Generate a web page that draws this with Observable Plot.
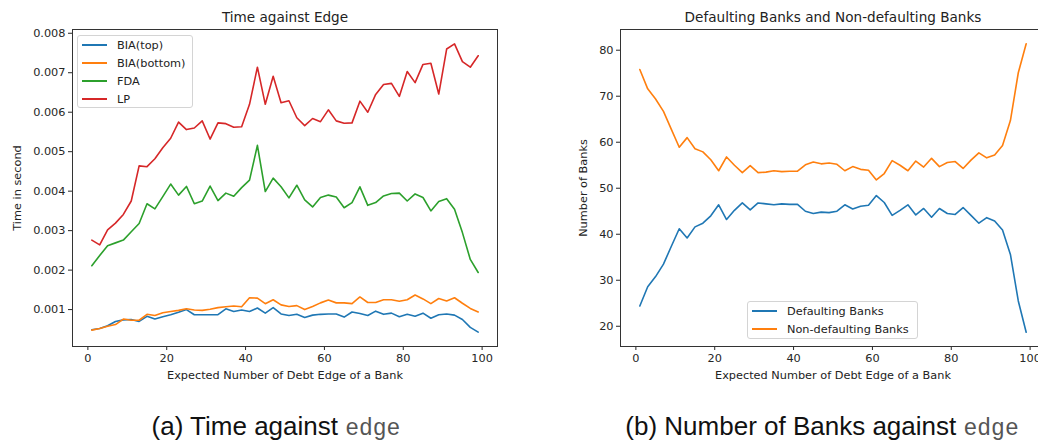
<!DOCTYPE html>
<html><head><meta charset="utf-8">
<script src="https://cdn.jsdelivr.net/npm/d3@7"></script>
<script src="https://cdn.jsdelivr.net/npm/@observablehq/plot@0.6"></script>
<style>
html,body{margin:0;padding:0;background:#fff;}
#wrap{position:relative;width:1038px;height:448px;overflow:hidden;font-family:"DejaVu Sans",sans-serif;}
.plot{position:absolute;top:0;}
.legend{position:absolute;box-sizing:border-box;background:rgba(255,255,255,0.8);border:1px solid #d4d4d4;border-radius:3px;font-size:11.3px;color:#222;}
.legend .row{display:flex;align-items:center;height:18px;white-space:nowrap;}
.sw{display:inline-block;width:25px;height:2px;margin-left:4px;margin-right:10px;}
.cap{position:absolute;top:411px;font-family:"Liberation Sans",Arial,sans-serif;font-size:26px;line-height:30px;color:#111;white-space:nowrap;transform:translateX(-50%);}
.cap .tt{font-family:"Liberation Mono",monospace;font-size:23px;color:#555;}
</style></head>
<body>
<div id="wrap">
  <div id="left" class="plot" style="left:0px"></div>
  <div id="right" class="plot" style="left:560px"></div>
  <div id="legL" class="legend" style="left:77px;top:35px;width:116px;height:73px;"></div>
  <div id="legR" class="legend" style="left:747px;top:301px;width:171px;height:38px;"></div>
  <div class="cap" style="left:276px">(a) Time against <span class="tt">edge</span></div>
  <div class="cap" style="left:822px">(b) Number of Banks against <span class="tt">edge</span></div>
</div>
<script>
const edges = [1,3,5,7,9,11,13,15,17,19,21,23,25,27,29,31,33,35,37,39,41,43,45,47,49,51,53,55,57,59,61,63,65,67,69,71,73,75,77,79,81,83,85,87,89,91,93,95,97,99];

const leftNames = ["BIA(top)", "BIA(bottom)", "FDA", "LP"];
const leftColors = ["#1f77b4", "#ff7f0e", "#2ca02c", "#d62728"];

const biaTop = [0.00049,0.00052,0.00059,0.00070,0.00074,0.00075,0.00070,0.00083,0.00076,0.00082,
0.00087,0.00093,0.00100,0.00087,0.00087,0.00087,0.00087,0.00102,0.00095,0.00099,
0.00095,0.00104,0.00091,0.00105,0.00089,0.00085,0.00088,0.00080,0.00086,0.00088,
0.00089,0.00089,0.00081,0.00094,0.00090,0.00085,0.00096,0.00088,0.00091,0.00082,
0.00088,0.00083,0.00091,0.00078,0.00087,0.00089,0.00086,0.00075,0.00055,0.00043];

const biaBottom = [0.00048,0.00052,0.00058,0.00062,0.00076,0.00073,0.00073,0.00088,0.00085,0.00092,
0.00095,0.00098,0.00102,0.00099,0.00098,0.00101,0.00105,0.00107,0.00109,0.00107,
0.00130,0.00129,0.00115,0.00125,0.00112,0.00108,0.00110,0.00100,0.00108,0.00117,
0.00124,0.00117,0.00117,0.00115,0.00132,0.00118,0.00118,0.00125,0.00125,0.00121,
0.00125,0.00137,0.00127,0.00115,0.00128,0.00122,0.00130,0.00116,0.00103,0.00094];

const fda = [0.00211,0.00237,0.00262,0.00269,0.00276,0.00297,0.00318,0.00368,0.00355,0.00386,
0.00418,0.00390,0.00412,0.00368,0.00375,0.00413,0.00376,0.00395,0.00387,0.00409,
0.00428,0.00516,0.00399,0.00433,0.00411,0.00383,0.00415,0.00378,0.00360,0.00384,
0.00390,0.00385,0.00358,0.00371,0.00411,0.00364,0.00371,0.00388,0.00394,0.00395,
0.00375,0.00393,0.00384,0.00350,0.00374,0.00381,0.00354,0.00295,0.00227,0.00194];

const lp = [0.00276,0.00264,0.00302,0.00319,0.00341,0.00375,0.00464,0.00462,0.00482,0.00510,
0.00534,0.00575,0.00556,0.00560,0.00578,0.00532,0.00573,0.00571,0.00562,0.00563,
0.00620,0.00714,0.00620,0.00691,0.00624,0.00629,0.00586,0.00566,0.00584,0.00576,
0.00606,0.00578,0.00572,0.00573,0.00628,0.00600,0.00645,0.00670,0.00673,0.00640,
0.00703,0.00675,0.00721,0.00724,0.00646,0.00760,0.00773,0.00728,0.00714,0.00743];

const rightNames = ["Defaulting Banks", "Non-defaulting Banks"];
const rightColors = ["#1f77b4", "#ff7f0e"];

const defaulting = [24.4,28.6,30.8,33.5,37.4,41.2,39.2,41.6,42.4,44.0,
46.4,43.2,45.2,46.8,45.3,46.8,46.6,46.4,46.6,46.5,
46.5,45.0,44.5,44.8,44.7,45.0,46.4,45.5,46.1,46.3,
48.4,46.9,44.1,45.2,46.4,44.2,45.6,43.7,45.6,44.5,
44.3,45.8,44.1,42.4,43.6,42.9,40.9,35.6,25.5,18.7];

const nonDefaulting = [75.8,71.6,69.4,66.7,62.8,58.9,61.0,58.6,57.9,56.2,
53.8,56.8,55.0,53.4,54.9,53.4,53.5,53.8,53.6,53.7,
53.7,55.1,55.7,55.3,55.5,55.2,53.8,54.7,54.1,53.9,
51.8,53.2,56.0,55.0,53.8,55.9,54.6,56.5,54.7,55.6,
55.8,54.3,56.1,57.7,56.6,57.2,59.3,64.7,75.1,81.4];

const xTicks = [0, 20, 40, 60, 80, 100];
const leftYTicks = [0.001, 0.002, 0.003, 0.004, 0.005, 0.006, 0.007, 0.008];
const rightYTicks = [20, 30, 40, 50, 60, 70, 80];

const leftTitle = "Time against Edge";
const rightTitle = "Defaulting Banks and Non-defaulting Banks";
const xLabel = "Expected Number of Debt Edge of a Bank";
const leftYLabel = "Time in second";
const rightYLabel = "Number of Banks";

const leftSeries = [biaTop, biaBottom, fda, lp];
const rightSeries = [defaulting, nonDefaulting];

function toRows(names, series) {
  const rows = [];
  names.forEach((name, i) => series[i].forEach((v, j) => rows.push({series: name, edge: edges[j], value: v})));
  return rows;
}

const baseStyle = {fontFamily: "DejaVu Sans", fontSize: "11.3px", color: "#262626", background: "transparent", overflow: "visible", maxWidth: "none"};

function makeChart({names, colors, series, yDomain, yTicks, yFormat, width, marginLeft, marginRight, title, yLabel, yLabelDx}) {
  return Plot.plot({
    width, height: 400,
    marginLeft, marginRight, marginTop: 29, marginBottom: 54,
    style: baseStyle,
    x: {domain: [-3.9, 103.9]},
    y: {domain: yDomain},
    color: {domain: names, range: colors},
    marks: [
      Plot.axisX({ticks: xTicks, tickSize: 4, tickPadding: 3, label: null, tickFormat: d => String(d)}),
      Plot.axisY({ticks: yTicks, tickSize: 4, tickPadding: 3, label: null, tickFormat: yFormat}),
      Plot.lineY(toRows(names, series), {x: "edge", y: "value", z: "series", stroke: "series", strokeWidth: 1.6}),
      Plot.frame({stroke: "#333", strokeWidth: 1}),
      Plot.text([title], {text: d => d, frameAnchor: "top", dy: -8, lineAnchor: "bottom", fontSize: 13.6, fill: "#222"}),
      Plot.text([xLabel], {text: d => d, frameAnchor: "bottom", dy: 29, lineAnchor: "middle", fontSize: 11.3, fill: "#222"}),
      Plot.text([yLabel], {text: d => d, frameAnchor: "left", dx: yLabelDx, rotate: -90, textAnchor: "middle", lineAnchor: "middle", fontSize: 11.3, fill: "#222"})
    ]
  });
}

document.getElementById("left").appendChild(makeChart({
  names: leftNames, colors: leftColors, series: leftSeries,
  yDomain: [0.000065, 0.008095], yTicks: leftYTicks, yFormat: d3.format(".3f"),
  width: 520, marginLeft: 72, marginRight: 23,
  title: leftTitle, yLabel: leftYLabel, yLabelDx: -55
}));

document.getElementById("right").appendChild(makeChart({
  names: rightNames, colors: rightColors, series: rightSeries,
  yDomain: [15.6, 84.5], yTicks: rightYTicks, yFormat: d => String(d),
  width: 500, marginLeft: 60, marginRight: 15,
  title: rightTitle, yLabel: rightYLabel, yLabelDx: -37
}));

function legend(id, names, colors) {
  const el = document.getElementById(id);
  names.forEach((n, i) => {
    const row = document.createElement("div");
    row.className = "row";
    const sw = document.createElement("span");
    sw.className = "sw";
    sw.style.backgroundColor = colors[i];
    row.appendChild(sw);
    row.appendChild(document.createTextNode(n));
    el.appendChild(row);
  });
}
legend("legL", leftNames, leftColors);
legend("legR", rightNames, rightColors);
</script>
</body></html>
